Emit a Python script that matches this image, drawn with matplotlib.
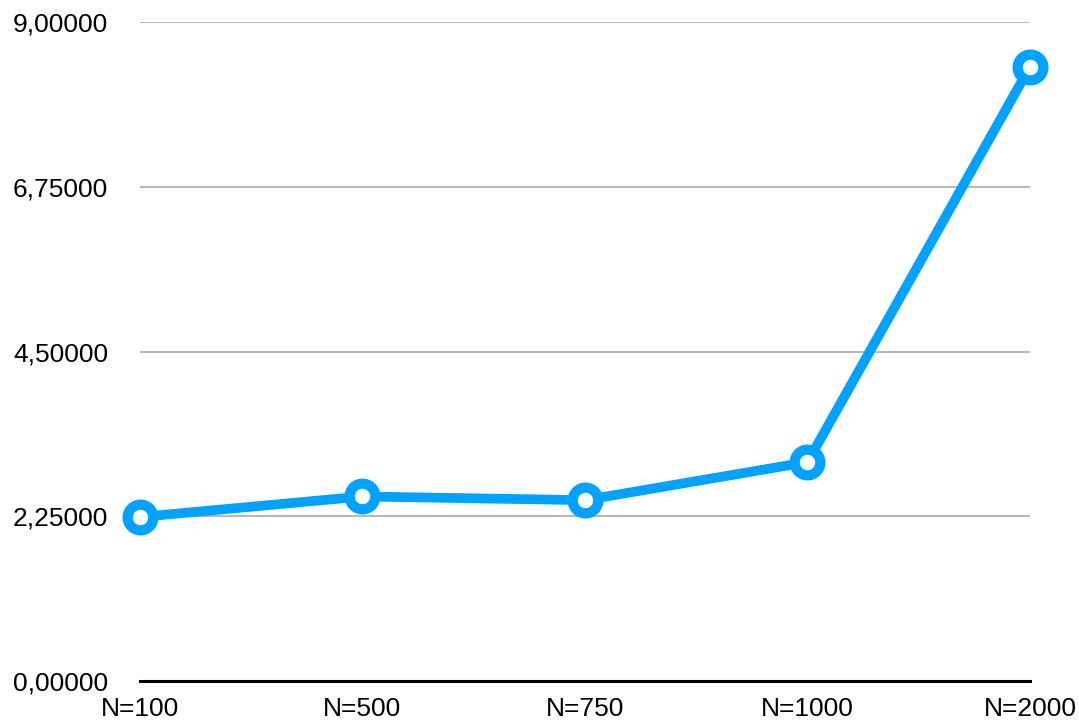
import matplotlib.pyplot as plt
from matplotlib.ticker import FuncFormatter

# Runtime per problem size
labels = ["N=100", "N=500", "N=750", "N=1000", "N=2000"]
values = [2.24, 2.52, 2.47, 2.99, 8.39]
y_ticks = [0.0, 2.25, 4.5, 6.75, 9.0]

plt.rcParams["font.family"] = ["Liberation Sans", "DejaVu Sans"]

fig = plt.figure(figsize=(10.79, 7.22), dpi=100)
ax = fig.add_axes([0.1297, 0.0568, 0.8249, 0.9127])

blue = "#00a2ff"
x = list(range(len(labels)))
ax.plot(x, values, color=blue, linewidth=7, marker="o", markersize=18.5,
        markerfacecolor="white", markeredgecolor=blue, markeredgewidth=7.4,
        clip_on=False, zorder=3, solid_joinstyle="round")

ax.set_xlim(0, len(labels) - 1)
ax.set_ylim(0, 9)
ax.set_xticks(x)
ax.set_xticklabels(labels)
ax.set_yticks(y_ticks)
ax.yaxis.set_major_formatter(FuncFormatter(lambda v, _: f"{v:.5f}".replace(".", ",")))

for v in y_ticks[1:]:
    ax.axhline(v, color="#b8b8b8", linewidth=1.5, zorder=1)

for side in ["top", "right", "left"]:
    ax.spines[side].set_visible(False)
ax.spines["bottom"].set_linewidth(2.2)
ax.spines["bottom"].set_color("black")

ax.tick_params(axis="y", length=0, pad=23, labelsize=19)
ax.tick_params(axis="x", length=0, pad=11.5, labelsize=19)

fig.savefig("out.png", dpi=100)
